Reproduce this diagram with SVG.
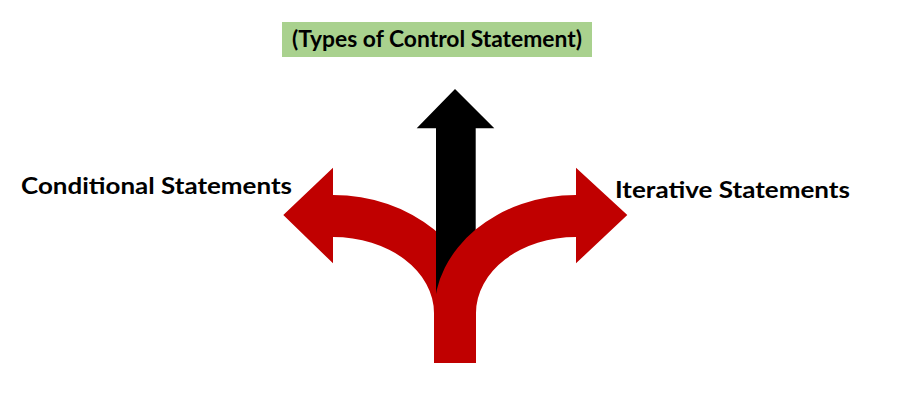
<svg xmlns="http://www.w3.org/2000/svg" width="917" height="395" viewBox="0 0 917 395">
  <style>
    .label { font-family: Lato, "Open Sans", "Liberation Sans", sans-serif; font-weight: bold; font-size: 22px; fill: #000000; }
    .red { fill: #C00000; }
    .black { fill: #000000; }
  </style>
  <rect width="917" height="395" fill="#ffffff"/>

  <!-- title banner -->
  <g id="title">
    <rect x="282" y="22" width="310" height="35" fill="#A9D18E"/>
    <text class="label" x="292" y="46.5" textLength="290" lengthAdjust="spacingAndGlyphs">(Types of Control Statement)</text>
  </g>

  <!-- the three-way fork of arrows -->
  <g id="connectors">
    <!-- left branch -->
    <path id="arrow-left" class="red" d="M 476 363 L 476 313 A 143 118 0 0 0 333 195 L 333 167.7 L 283.3 215 L 333 263.3 L 333 237 A 101 76 0 0 1 434 313 L 434 363 Z"/>
    <!-- straight-up branch -->
    <path id="arrow-up" class="black" d="M 436 340 L 436 128.3 L 416.7 128.3 L 455 89 L 494.3 128.3 L 475.7 128.3 L 475.7 340 Z"/>
    <!-- right branch -->
    <path id="arrow-right" class="red" d="M 434 363 L 434 313 A 142 118 0 0 1 576 195 L 576 167.7 L 627.3 215 L 576 263.3 L 576 237 A 100 76 0 0 0 476 313 L 476 363 Z"/>
  </g>

  <g id="conditional">
    <text class="label" x="21" y="194" textLength="271" lengthAdjust="spacingAndGlyphs">Conditional Statements</text>
  </g>
  <g id="iterative">
    <text class="label" x="615" y="197.5" textLength="235" lengthAdjust="spacingAndGlyphs">Iterative Statements</text>
  </g>
</svg>
